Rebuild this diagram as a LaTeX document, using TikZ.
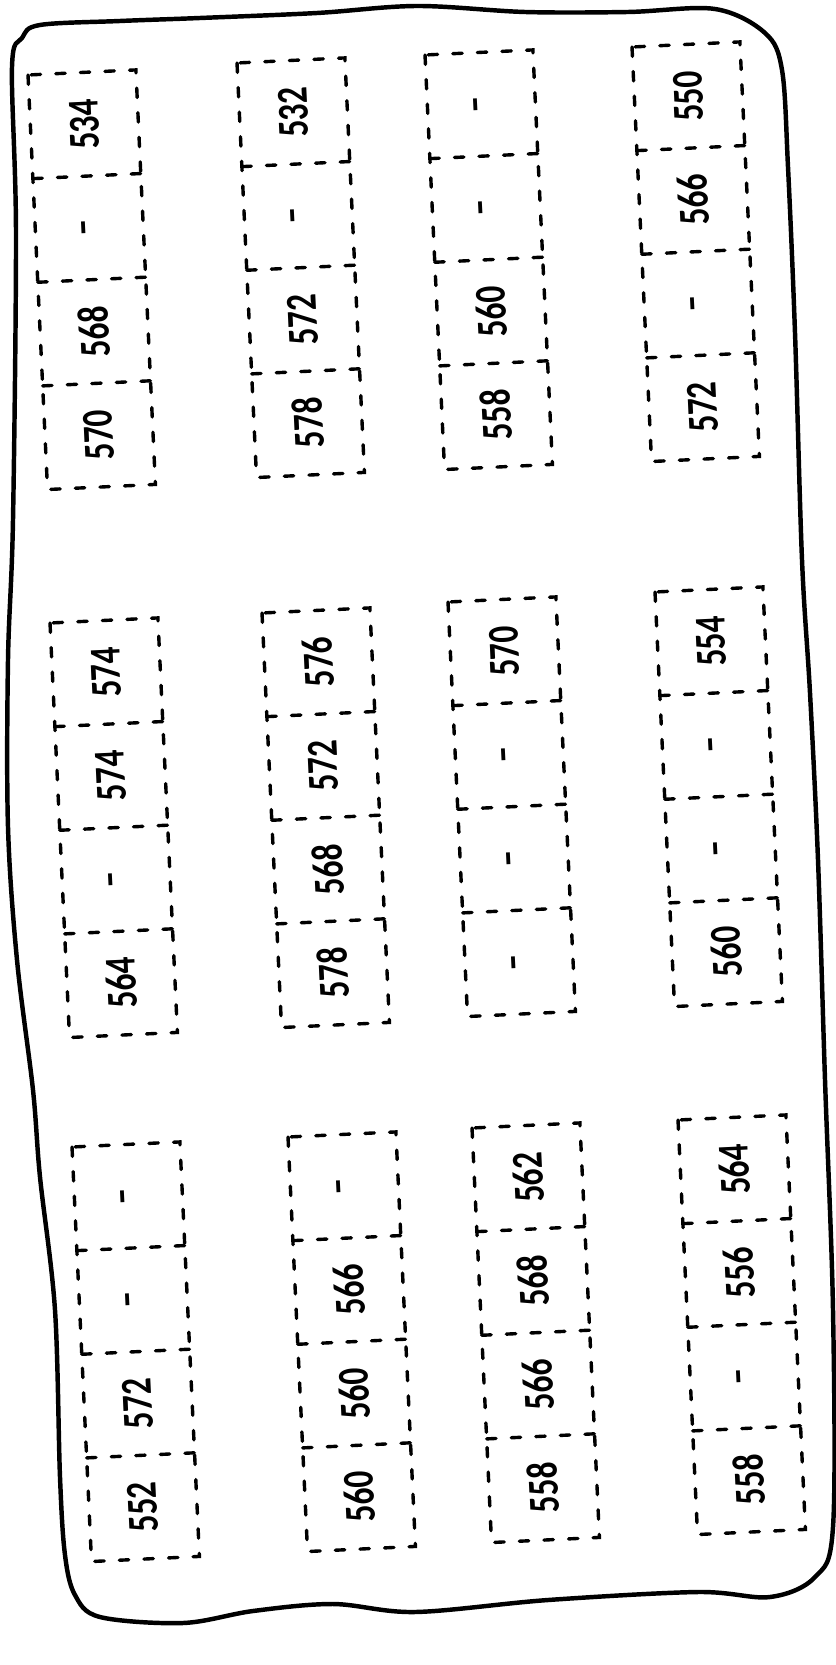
\documentclass[tikz,border=0pt]{standalone}
\usepackage{fontspec}
\setmainfont{Carlito}[Ligatures=TeX]
\usepackage{graphicx}
\usepackage{tikz}
\newcommand\cellfmt[1]{\scalebox{0.95}[1.25]{#1}}

\begin{document}
\begin{tikzpicture}[
  x=0.03cm, y=-0.03cm,
  border/.style={line width=3.8pt, line join=round},
  cellline/.style={line width=2.9pt, line cap=round, dash pattern=on 8pt off 13pt},
  cellnum/.style={rotate=92.7, font=\fontsize{30}{34}\selectfont\bfseries, inner sep=0pt},
]
\useasboundingbox (0,0) rectangle (835,1665);

% outline of the panel
\draw[border] plot[smooth cycle, tension=0.55] coordinates {
  (40,25) (120,21) (200,18) (317,13) (417,6) (525,12) (628,12) (715,9)
  (765,33) (782,70) (788,167) (795,333) (802,560) (810,693) (818,860)
  (825,1080) (833,1310) (833,1527) (815,1577) (770,1597) (698,1592)
  (548,1600) (415,1612) (333,1604) (253,1611) (183,1623) (100,1617)
  (75,1595) (65,1555) (60,1477) (55,1310) (40,1177) (33,1090) (17,960)
  (8,827) (8,660) (13,520) (16,233) (12,67) (22,38)};

% groups: top-left corner, then labels from top to bottom
\foreach \gx/\gy/\la/\lb/\lc/\ld [count=\g] in {
    28/75/534/--/568/570, 237/63/532/--/572/578, 425/55/--/--/560/558,
    632/47/550/566/--/572, 50/623/574/574/--/564, 262/613/576/572/568/578,
    448/602/570/--/--/--, 655/592/554/--/--/560, 72/1147/--/--/572/552,
    288/1137/--/566/560/560, 472/1128/562/568/566/558, 678/1120/564/556/--/558}
{
  \begin{scope}[shift={(\gx,\gy)}, rotate=2.7]
    \draw[cellline] (0,0) rectangle (108,415);
    \foreach \k in {1,2,3}
      \draw[cellline] (0,103.75*\k) -- (108,103.75*\k);
    \foreach \lab [count=\k] in {\la,\lb,\lc,\ld}
      \node[cellnum] (g\g-\k) at (54,103.75*\k-51.9) {\cellfmt{\lab}};
  \end{scope}
}

\end{tikzpicture}
\end{document}
